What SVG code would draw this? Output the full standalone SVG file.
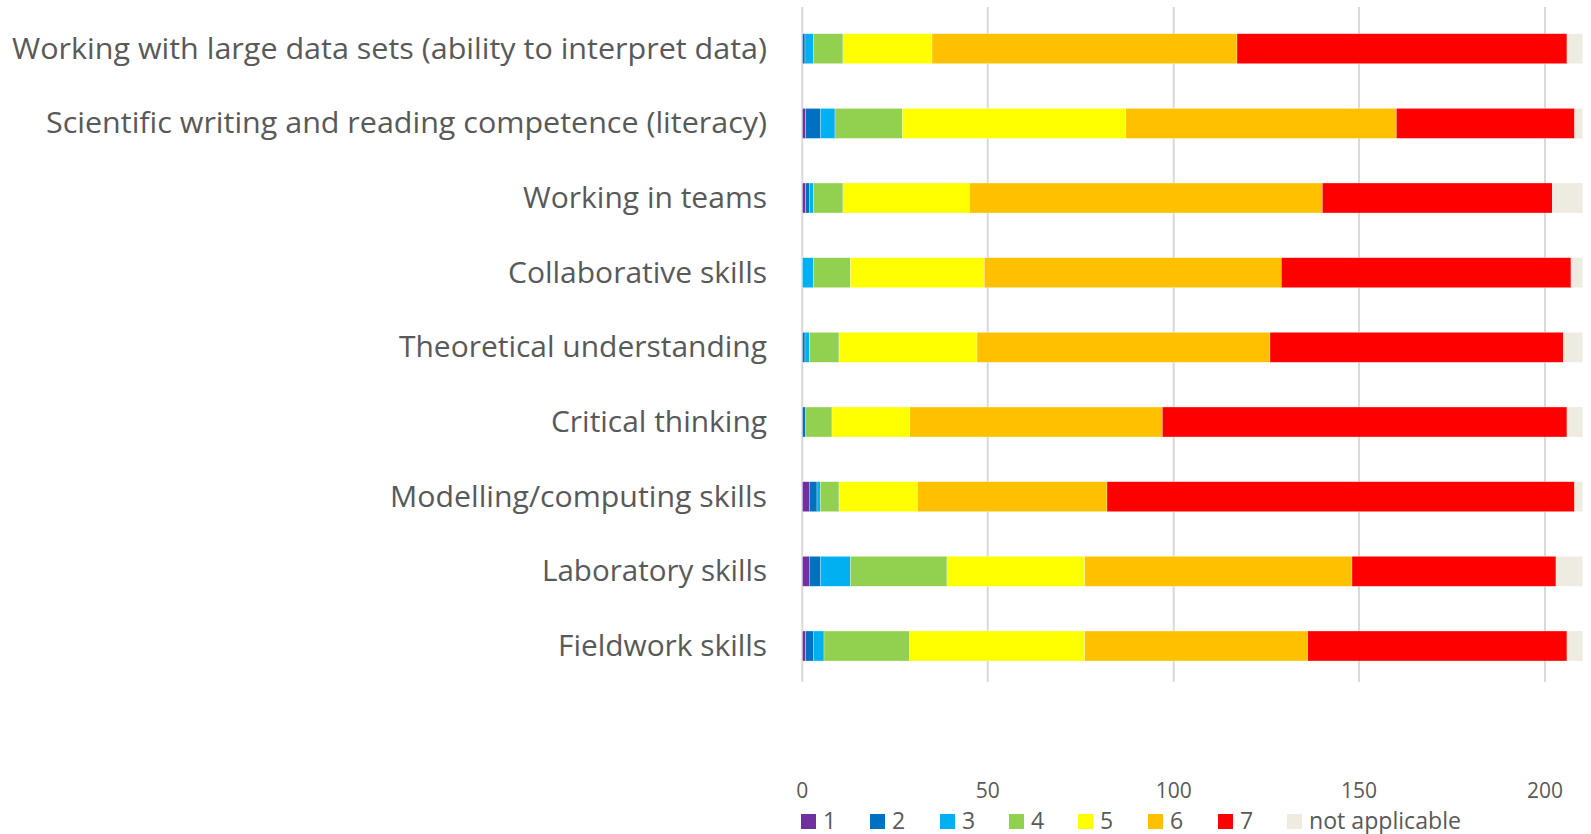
<svg xmlns="http://www.w3.org/2000/svg" width="1591" height="834" viewBox="0 0 1591 834">
<style>
.lbl{font-family:"Open Sans","Liberation Sans",sans-serif;font-size:28.5px;fill:#595959;text-anchor:end}
.tick{font-family:"Open Sans","Liberation Sans",sans-serif;font-size:21px;fill:#595959;text-anchor:middle}
.leg{font-family:"Open Sans","Liberation Sans",sans-serif;font-size:23px;fill:#595959}
.grid{stroke:#d9d9d9;stroke-width:2}
.s1{fill:#7030A0}.s2{fill:#0070C0}.s3{fill:#00B0F0}.s4{fill:#92D050}.s5{fill:#FFFF00}.s6{fill:#FFC000}.s7{fill:#FF0000}.s8{fill:#EEECE1}
.bar rect{height:30px;stroke:#ffffff;stroke-width:0.5;stroke-opacity:0.6}
</style>
<rect width="1591" height="834" fill="#ffffff"/>
<g id="gridlines">
<line class="grid" x1="802.3" y1="7" x2="802.3" y2="682"/>
<line class="grid" x1="987.7" y1="7" x2="987.7" y2="682"/>
<line class="grid" x1="1173.7" y1="7" x2="1173.7" y2="682"/>
<line class="grid" x1="1359" y1="7" x2="1359" y2="682"/>
<line class="grid" x1="1545" y1="7" x2="1545" y2="682"/>
</g>
<g id="row1">
<text class="lbl" x="767" y="58.5" textLength="755" lengthAdjust="spacingAndGlyphs">Working with large data sets (ability to interpret data)</text>
<g class="bar">
<rect class="s2" x="802.5" y="33.7" width="2.5"/><rect class="s3" x="805" y="33.7" width="8.3"/><rect class="s4" x="813.3" y="33.7" width="29.7"/><rect class="s5" x="843" y="33.7" width="89"/><rect class="s6" x="932" y="33.7" width="305"/><rect class="s7" x="1237" y="33.7" width="330"/><rect class="s8" x="1567" y="33.7" width="15.7"/>
</g></g>
<g id="row2">
<text class="lbl" x="767" y="133.2" textLength="721" lengthAdjust="spacingAndGlyphs">Scientific writing and reading competence (literacy)</text>
<g class="bar">
<rect class="s1" x="802.5" y="108.4" width="3.2"/><rect class="s2" x="805.7" y="108.4" width="14.6"/><rect class="s3" x="820.3" y="108.4" width="14.7"/><rect class="s4" x="835" y="108.4" width="67.3"/><rect class="s5" x="902.3" y="108.4" width="223.4"/><rect class="s6" x="1125.7" y="108.4" width="270.6"/><rect class="s7" x="1396.3" y="108.4" width="178.4"/><rect class="s8" x="1574.7" y="108.4" width="8"/>
</g></g>
<g id="row3">
<text class="lbl" x="767" y="207.8" textLength="244" lengthAdjust="spacingAndGlyphs">Working in teams</text>
<g class="bar">
<rect class="s1" x="802.5" y="183" width="3.2"/><rect class="s2" x="805.7" y="183" width="3.6"/><rect class="s3" x="809.3" y="183" width="4"/><rect class="s4" x="813.3" y="183" width="29.7"/><rect class="s5" x="843" y="183" width="126.3"/><rect class="s6" x="969.3" y="183" width="353"/><rect class="s7" x="1322.3" y="183" width="230"/><rect class="s8" x="1552.3" y="183" width="30.4"/>
</g></g>
<g id="row4">
<text class="lbl" x="767" y="282.5" textLength="259" lengthAdjust="spacingAndGlyphs">Collaborative skills</text>
<g class="bar">
<rect class="s3" x="802.5" y="257.7" width="10.8"/><rect class="s4" x="813.3" y="257.7" width="37"/><rect class="s5" x="850.3" y="257.7" width="134"/><rect class="s6" x="984.3" y="257.7" width="297"/><rect class="s7" x="1281.3" y="257.7" width="289.7"/><rect class="s8" x="1571" y="257.7" width="11.7"/>
</g></g>
<g id="row5">
<text class="lbl" x="767" y="357.1" textLength="368" lengthAdjust="spacingAndGlyphs">Theoretical understanding</text>
<g class="bar">
<rect class="s2" x="802.5" y="332.3" width="2.5"/><rect class="s3" x="805" y="332.3" width="4.3"/><rect class="s4" x="809.3" y="332.3" width="29.7"/><rect class="s5" x="839" y="332.3" width="138"/><rect class="s6" x="977" y="332.3" width="293"/><rect class="s7" x="1270" y="332.3" width="293.3"/><rect class="s8" x="1563.3" y="332.3" width="19.4"/>
</g></g>
<g id="row6">
<text class="lbl" x="767" y="431.8" textLength="216" lengthAdjust="spacingAndGlyphs">Critical thinking</text>
<g class="bar">
<rect class="s2" x="802.5" y="407" width="3.2"/><rect class="s4" x="805.7" y="407" width="26.3"/><rect class="s5" x="832" y="407" width="77.7"/><rect class="s6" x="909.7" y="407" width="252.6"/><rect class="s7" x="1162.3" y="407" width="404.7"/><rect class="s8" x="1567" y="407" width="15.7"/>
</g></g>
<g id="row7">
<text class="lbl" x="767" y="506.5" textLength="377" lengthAdjust="spacingAndGlyphs">Modelling/computing skills</text>
<g class="bar">
<rect class="s1" x="802.5" y="481.7" width="6.8"/><rect class="s2" x="809.3" y="481.7" width="7.7"/><rect class="s3" x="817" y="481.7" width="3.3"/><rect class="s4" x="820.3" y="481.7" width="18.7"/><rect class="s5" x="839" y="481.7" width="78.3"/><rect class="s6" x="917.3" y="481.7" width="189.7"/><rect class="s7" x="1107" y="481.7" width="467.7"/><rect class="s8" x="1574.7" y="481.7" width="8"/>
</g></g>
<g id="row8">
<text class="lbl" x="767" y="581.1" textLength="225" lengthAdjust="spacingAndGlyphs">Laboratory skills</text>
<g class="bar">
<rect class="s1" x="802.5" y="556.3" width="6.8"/><rect class="s2" x="809.3" y="556.3" width="11"/><rect class="s3" x="820.3" y="556.3" width="30"/><rect class="s4" x="850.3" y="556.3" width="96.7"/><rect class="s5" x="947" y="556.3" width="137.7"/><rect class="s6" x="1084.7" y="556.3" width="267.3"/><rect class="s7" x="1352" y="556.3" width="204"/><rect class="s8" x="1556" y="556.3" width="26.7"/>
</g></g>
<g id="row9">
<text class="lbl" x="767" y="655.8" textLength="209" lengthAdjust="spacingAndGlyphs">Fieldwork skills</text>
<g class="bar">
<rect class="s1" x="802.5" y="631" width="3.2"/><rect class="s2" x="805.7" y="631" width="7.6"/><rect class="s3" x="813.3" y="631" width="10.7"/><rect class="s4" x="824" y="631" width="85.7"/><rect class="s5" x="909.7" y="631" width="175"/><rect class="s6" x="1084.7" y="631" width="223"/><rect class="s7" x="1307.7" y="631" width="259.3"/><rect class="s8" x="1567" y="631" width="15.7"/>
</g></g>
<g id="axis-labels">
<text class="tick" x="802.3" y="798">0</text>
<text class="tick" x="987.7" y="798">50</text>
<text class="tick" x="1173.7" y="798">100</text>
<text class="tick" x="1359" y="798">150</text>
<text class="tick" x="1545" y="798">200</text>
</g>
<g id="legend">
<rect class="s1" x="801" y="814" width="15" height="15"/><text class="leg" x="823" y="829">1</text>
<rect class="s2" x="870" y="814" width="15" height="15"/><text class="leg" x="892" y="829">2</text>
<rect class="s3" x="940" y="814" width="15" height="15"/><text class="leg" x="962" y="829">3</text>
<rect class="s4" x="1009" y="814" width="15" height="15"/><text class="leg" x="1031" y="829">4</text>
<rect class="s5" x="1078" y="814" width="15" height="15"/><text class="leg" x="1100" y="829">5</text>
<rect class="s6" x="1148" y="814" width="15" height="15"/><text class="leg" x="1170" y="829">6</text>
<rect class="s7" x="1218" y="814" width="15" height="15"/><text class="leg" x="1240" y="829">7</text>
<rect class="s8" x="1287" y="814" width="15" height="15"/><text class="leg" x="1309" y="829" textLength="152" lengthAdjust="spacingAndGlyphs">not applicable</text>
</g>
</svg>
